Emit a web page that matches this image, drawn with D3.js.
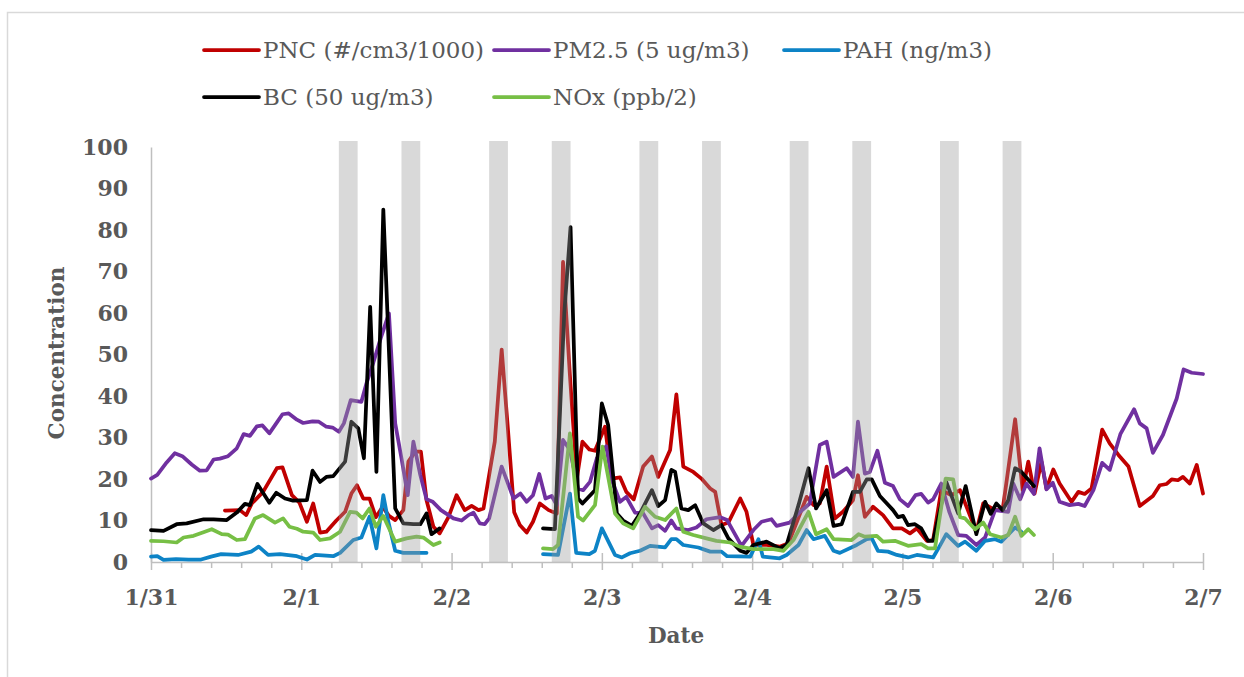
<!DOCTYPE html>
<html>
<head>
<meta charset="utf-8">
<script src="https://cdn.jsdelivr.net/npm/d3@7"></script>
<style>
  body { margin: 0; background: #fff; }
  svg { display: block; }
  .tick text { font-family: "DejaVu Serif", serif; font-weight: bold; font-size: 22px; fill: #595959; }
  .legend text { font-family: "DejaVu Serif", serif; font-size: 23px; fill: #595959; }
  .title { font-family: "DejaVu Serif", serif; font-weight: bold; font-size: 21.5px; fill: #595959; }
</style>
</head>
<body>
<svg id="chart"></svg>
<script>
// time in hours since 1/31 00:00, values as plotted
const dayLabels = ['1/31', '2/1', '2/2', '2/3', '2/4', '2/5', '2/6', '2/7'];
const yTicks = [0, 10, 20, 30, 40, 50, 60, 70, 80, 90, 100];

// rush-hour windows (hours)
const bands = [
  [30, 33], [40, 43], [54, 57], [64, 67], [78, 81],
  [88, 91], [102, 105], [112, 115], [126, 129], [136, 139]
];

const pnc = [
  [11.8, 12.4], [14.2, 12.5], [15.2, 11.3], [16.1, 14.1], [17.9, 16.9], [20.1, 22.6], [21, 22.8],
  [22.5, 16.1], [23.7, 14.3], [24.9, 9.7], [25.9, 14.1], [27, 7.1], [28, 7.3], [29.6, 10], [31, 12.1],
  [32, 16.5], [32.9, 18.5], [33.9, 15.3], [34.9, 15.3], [35.9, 10.8], [37, 13.3], [38, 11.1], [39, 10.1],
  [40.3, 12.5], [41.1, 24.2], [42.2, 26.6], [43.1, 26.6], [44, 14.9], [45.1, 8.5], [46.1, 6.9],
  [47.5, 10.8], [48.8, 16.1], [50.1, 12.5], [51.2, 13.5], [52.3, 12.5], [53.1, 12.9], [54.9, 29],
  [56, 51.2], [57, 32], [58, 12], [58.9, 8.9], [60, 7.1], [61, 9.7], [62.1, 14.1], [63.5, 12.5],
  [64.8, 11.7], [65.8, 72.3], [66.9, 45], [68, 20], [68.9, 29], [70, 27.1], [70.9, 26.8], [72.5, 32.6],
  [73.6, 20.1], [74.9, 20.4], [75.9, 16.9], [77.1, 15.1], [78.6, 23], [80, 25.4], [81, 20.5], [82.9, 27],
  [83.9, 40.4], [85, 23], [86.6, 21.7], [87.9, 20.1], [89.3, 17.7], [90.1, 16.9], [91.1, 8.9],
  [92.2, 9.5], [94.1, 15.3], [95.1, 12.1], [96.2, 4.1], [98.3, 4.1], [100.4, 3.7], [101.8, 4.5],
  [104.7, 15.7], [105.8, 13.7], [106.8, 14.1], [107.9, 23], [109.2, 10.5], [110.5, 12.1], [112.1, 14.9],
  [112.9, 20.9], [114, 10.9], [115.3, 13.3], [116.9, 11.3], [118.5, 8.1], [119.9, 8.1], [121.2, 6.9],
  [122.3, 8.1], [123.9, 5.1], [124.9, 5.3], [126.2, 17.3], [127.8, 16.1], [129.2, 17.3], [131.8, 7.3],
  [132.9, 14.1], [134.8, 12.5], [136, 12.5], [138, 34.4], [139.2, 17.3], [140.1, 24.2], [141.1, 16.5],
  [142.2, 24.2], [143, 17.7], [144.1, 22.3], [145.1, 18.9], [147, 14.5], [148.1, 16.9], [149.1, 16.4],
  [150.2, 17.7], [151.9, 31.9], [153.1, 28.6], [154.5, 25.8], [156.1, 23], [157.9, 13.5], [160, 15.9],
  [161.1, 18.5], [162.2, 18.8], [163, 19.9], [164, 19.7], [164.8, 20.5], [165.9, 18.9], [167, 23.4],
  [168, 16.5]
];

const pm25 = [
  [0, 20.1], [1, 21], [2.5, 24], [3.8, 26.2], [5, 25.5], [6.5, 23.5], [7.8, 22], [8.9, 22.1], [10, 24.7],
  [11, 24.9], [12.3, 25.5], [13.7, 27.4], [14.8, 30.8], [15.8, 30.4], [16.9, 32.7], [17.8, 32.9],
  [18.9, 31], [20, 33.4], [21, 35.6], [22, 35.8], [23.3, 34.3], [24.3, 33.5], [25.8, 33.9], [26.8, 33.8],
  [28, 32.6], [29, 32.4], [30, 31.4], [30.8, 33.4], [31.9, 39], [33.6, 38.6], [34.4, 43], [35.5, 48],
  [36.7, 54], [38, 59.9], [39, 33.4], [40, 25], [41, 16.1], [41.9, 29], [43, 21], [44, 15.1], [45, 14.5],
  [46.3, 12.5], [48.3, 10.5], [49.6, 10], [50.7, 11.3], [51.5, 11.9], [52.5, 9.3], [53.3, 9.1], [54, 10.5],
  [56, 23], [57.9, 15.3], [59, 16.5], [60, 14.5], [61, 16.1], [62, 21.2], [63, 15.3], [64, 15.9],
  [64.8, 13.7], [65.8, 29.4], [66.9, 27], [68.2, 17.7], [69, 17.3], [70.1, 19.3], [71.2, 25], [72.7, 27.9],
  [73.6, 19.7], [74.9, 14.5], [75.9, 15.7], [77.3, 11.9], [78.6, 11.7], [80, 8.1], [81, 8.9], [82.1, 7.5],
  [83.1, 10], [83.9, 8.1], [85.8, 7.7], [87.1, 8.3], [88.7, 10.3], [90.9, 10.8], [92, 10.1], [94.3, 3.9],
  [96.2, 7.7], [97.5, 9.7], [99.1, 10.3], [99.9, 8.7], [102, 9.5], [103.4, 11.7], [105.2, 14.1],
  [106.8, 28.2], [107.9, 29], [109, 20.5], [111.1, 22.6], [112.1, 20.5], [112.9, 33.8], [114, 21.3],
  [114.8, 21.7], [116, 26.8], [117.2, 19.1], [118.5, 18.3], [119.6, 15.1], [120.9, 13.5], [122.1, 16.1],
  [123, 16.4], [124.1, 14.3], [124.9, 15.1], [126.2, 18.9], [127.5, 12], [128.9, 6.5], [130.2, 6.3],
  [131.8, 4.1], [133.2, 5.9], [134.8, 12.5], [136.9, 12.1], [137.7, 18.9], [138.8, 15.1], [139.8, 18.9],
  [141, 16.4], [141.9, 27.4], [143, 17.5], [144, 19.1], [145.1, 14.5], [146.7, 13.7], [148.1, 14],
  [149.1, 13.5], [150.5, 17.3], [151.9, 23.9], [153.1, 22.2], [154.8, 30.8], [157, 36.8], [157.9, 33.4],
  [159, 32.2], [160, 26.3], [161.6, 30.6], [163.8, 39.4], [164.9, 46.4], [166.2, 45.6], [168, 45.3]
];

const pah = [
  [0, 1.3], [1, 1.4], [2, 0.5], [4, 0.7], [6, 0.6], [8, 0.6], [9.6, 1.3], [11.2, 1.9], [13.9, 1.7],
  [16, 2.5], [17.2, 3.7], [18.7, 1.7], [20.6, 1.9], [23.3, 1.4], [24.9, 0.6], [26.2, 1.7], [29.1, 1.4],
  [30.2, 2.2], [32.3, 5.3], [33.6, 5.9], [34.9, 10.9], [36, 3.3], [37.1, 16.1], [37.9, 9.7], [39, 2.7],
  [40.3, 2.2], [44, 2.2], null,
  [62.6, 1.9], [65, 1.7], [66.9, 16.5], [67.9, 2.2], [70, 1.9], [70.9, 2.7], [72, 8.1], [74.1, 1.7],
  [75.2, 1.1], [76.5, 2.1], [78.1, 2.7], [79.7, 3.9], [82.1, 3.5], [83.1, 5.5], [83.9, 5.5], [85, 4.1],
  [87.4, 3.5], [89.3, 2.5], [91.1, 2.5], [92, 1.4], [95.7, 1.3], [97, 5.5], [97.7, 1.3], [100.4, 0.9],
  [101.5, 1.7], [103.4, 4.1], [104.7, 7.7], [105.8, 5.5], [107.6, 6.3], [109, 2.7], [110, 2.2],
  [112.7, 4.1], [114.3, 5.5], [115.1, 5.7], [116.1, 2.7], [117.7, 2.5], [119.1, 1.7], [120.9, 1.1],
  [122.3, 1.7], [124.9, 1.1], [125.9, 3.7], [127, 6.7], [128.9, 3.9], [130, 4.9], [131.8, 2.7],
  [133.2, 5.1], [134.8, 5.5], [135.8, 4.9], [138, 8.3], [139, 7.3]
];

const bc = [
  [0, 7.7], [2, 7.5], [4.1, 9.1], [5.7, 9.3], [8.4, 10.3], [10, 10.3], [12.1, 10.1], [13.7, 11.9],
  [15, 14], [15.8, 13.7], [17, 18.8], [18.9, 14.3], [20, 16.7], [21.4, 15.3], [22.7, 14.8], [24.9, 14.9],
  [25.8, 22], [27, 19.3], [28, 20.5], [29.1, 20.7], [31, 24.2], [32, 33.8], [33.1, 32.2], [34, 25],
  [35, 61.5], [36, 21.7], [37.1, 84.9], [39, 12.9], [40.3, 9.3], [41.9, 9.1], [43, 9.1], [44, 11.7],
  [44.8, 6.7], [46.1, 8.1], null,
  [62.6, 8.1], [64.5, 7.9], [66, 60], [67, 80.7], [68.2, 15.3], [68.9, 14.1], [70.9, 17.3], [72, 38.2],
  [73, 33], [74.4, 11.7], [75.4, 10], [76.8, 8.7], [78.1, 11.7], [80, 17.3], [81, 13.5], [82.1, 14.9],
  [83.1, 22.2], [83.7, 21.7], [84.7, 12.9], [85.8, 12.5], [86.9, 13.7], [88.2, 9.3], [89.8, 7.7],
  [91.1, 8.9], [92.2, 5.7], [94.1, 2.7], [95.1, 2.2], [96.2, 4.1], [98.3, 4.9], [100.4, 3.3],
  [101.5, 4.1], [103.4, 13.7], [105, 22.6], [106.2, 12.9], [107.9, 17.3], [109, 8.7], [110.3, 9.1],
  [112.1, 16.9], [113.2, 16.9], [114.3, 19.9], [115.1, 19.9], [116.4, 15.9], [118.5, 12.5],
  [119.3, 10.8], [120.1, 11.1], [120.9, 8.9], [122, 9.1], [123, 8.1], [124.1, 5.1], [124.9, 5.1],
  [127, 19.3], [128.9, 11.7], [130.1, 18.3], [131.8, 6.7], [133.2, 14.5], [134.1, 11.6], [135, 14.1],
  [136, 12.5], [136.9, 14.9], [138, 22.6], [139, 21.7], [141, 18.3]
];

const nox = [
  [0, 5.1], [2, 5], [4.1, 4.7], [5.2, 5.9], [6.8, 6.3], [8.6, 7.3], [9.7, 7.9], [11.3, 6.7], [12.3, 6.6],
  [13.7, 5.3], [15, 5.5], [16.6, 10.5], [17.9, 11.3], [19.8, 9.5], [21.1, 10.5], [22.1, 8.5], [23.3, 8],
  [24.3, 7.3], [25.9, 7.1], [27, 5.3], [28.6, 5.7], [30.2, 7.3], [31.8, 12.1], [32.8, 11.9], [33.8, 10.5],
  [34.9, 12.9], [35.9, 8.5], [37.1, 11.1], [39, 4.9], [40.8, 5.7], [42.4, 6.1], [43.5, 5.9], [45.1, 4.1],
  [46.1, 4.7], null,
  [62.6, 3.3], [64.2, 3.1], [65, 4.1], [66.9, 31], [68.2, 10.9], [69, 10], [70.9, 13.7], [72.1, 27.8],
  [74.1, 11.7], [75.4, 9.3], [77, 8.1], [78.9, 13.3], [80.5, 10.9], [82.1, 10.1], [83.9, 12.9], [85, 7.3],
  [86.6, 6.5], [88.7, 5.7], [90.3, 5.1], [92.5, 4.7], [94, 3.7], [96.2, 3.1], [99.4, 3.1], [101, 2.7],
  [102.6, 5.3], [105, 12.1], [106.2, 6.7], [107.9, 7.9], [109, 5.5], [111.9, 5.3], [113, 6.7], [114, 6.1],
  [115.9, 6.3], [116.9, 4.9], [118.8, 5.1], [120.9, 3.9], [123, 4.3], [124.1, 3.3], [125.2, 3.3],
  [126.9, 20.1], [128.1, 19.9], [129.2, 10.8], [130, 10.5], [131.6, 7.9], [132.9, 9.5], [134, 6.7],
  [135.8, 5.9], [136.9, 6.5], [138, 10.9], [139, 6.3], [140.1, 7.9], [141, 6.5]
];

const series = [
  { name: 'PNC (#/cm3/1000)', color: '#c00000', data: pnc },
  { name: 'PM2.5 (5 ug/m3)', color: '#7030a0', data: pm25 },
  { name: 'PAH (ng/m3)', color: '#0d83c6', data: pah },
  { name: 'BC (50 ug/m3)', color: '#000000', data: bc },
  { name: 'NOx (ppb/2)', color: '#77bf45', data: nox }
];

const W = 1244, H = 677;
const svg = d3.select('#chart').attr('width', W).attr('height', H);

// chart border (only top/left edges fall inside the picture)
svg.append('rect')
  .attr('x', 7.5).attr('y', 12.5)
  .attr('width', 1400).attr('height', 800)
  .attr('fill', 'none').attr('stroke', '#d9d9d9').attr('stroke-width', 1.5);

const x = d3.scaleLinear().domain([0, 168]).range([151, 1203]);
const y = d3.scaleLinear().domain([0, 100]).range([562, 147]);

const line = d3.line()
  .defined(d => d !== null)
  .x(d => x(d[0]))
  .y(d => y(d[1]));

// axes
const dayHours = dayLabels.map((d, i) => i * 24);
const minorHours = d3.range(0, 168.1, 4.8).filter(h => h % 24 !== 0);

const gx = svg.append('g').attr('transform', `translate(0,${y(0)})`);
gx.call(d3.axisBottom(x).tickValues(minorHours).tickSize(6).tickFormat(''));
gx.call(g => g.select('.domain').remove());

const gxMajor = svg.append('g').attr('transform', `translate(0,${y(0)})`)
  .call(d3.axisBottom(x).tickValues(dayHours).tickSizeInner(8).tickSizeOuter(0)
    .tickFormat((d, i) => dayLabels[i]));
gxMajor.selectAll('.tick line').attr('y1', -9);
gxMajor.selectAll('.tick text').attr('y', 43).attr('dy', 0);
svg.selectAll('.domain, .tick line').attr('stroke', '#bfbfbf').attr('stroke-width', 1.5);

const gy = svg.append('g').attr('transform', `translate(${x(0)},0)`)
  .call(d3.axisLeft(y).tickValues(yTicks).tickSize(0).tickPadding(23));
gy.select('.domain').attr('stroke', '#bfbfbf').attr('stroke-width', 1.5);

// series lines
svg.append('g').selectAll('path')
  .data(series)
  .join('path')
  .attr('d', d => line(d.data))
  .attr('fill', 'none')
  .attr('stroke', d => d.color)
  .attr('stroke-width', 3.75)
  .attr('stroke-linejoin', 'round')
  .attr('stroke-linecap', 'round');

// rush-hour shading sits over the lines
svg.append('g').selectAll('rect')
  .data(bands)
  .join('rect')
  .attr('x', d => x(d[0]))
  .attr('width', d => x(d[1]) - x(d[0]))
  .attr('y', 141)
  .attr('height', y(0) - 141)
  .attr('fill', '#9a9a9a')
  .attr('fill-opacity', 0.38);

// axis titles
svg.append('text').attr('class', 'title')
  .attr('transform', 'translate(64,353) rotate(-90)')
  .attr('text-anchor', 'middle')
  .text('Concentration');
svg.append('text').attr('class', 'title')
  .attr('x', 676).attr('y', 643)
  .attr('text-anchor', 'middle')
  .text('Date');

// legend
const legend = svg.append('g').attr('class', 'legend');
const item = legend.selectAll('g')
  .data(series.map((s, i) => ({ ...s, col: i < 3 ? i : i - 3, row: i < 3 ? 0 : 1 })))
  .join('g')
  .attr('transform', d => `translate(${204 + d.col * 290},${50 + d.row * 47})`);
item.append('line')
  .attr('x1', 0).attr('x2', 55)
  .attr('stroke', d => d.color).attr('stroke-width', 3.75).attr('stroke-linecap', 'round');
item.append('text')
  .attr('x', 59).attr('dy', '0.35em')
  .text(d => d.name);
</script>
</body>
</html>
